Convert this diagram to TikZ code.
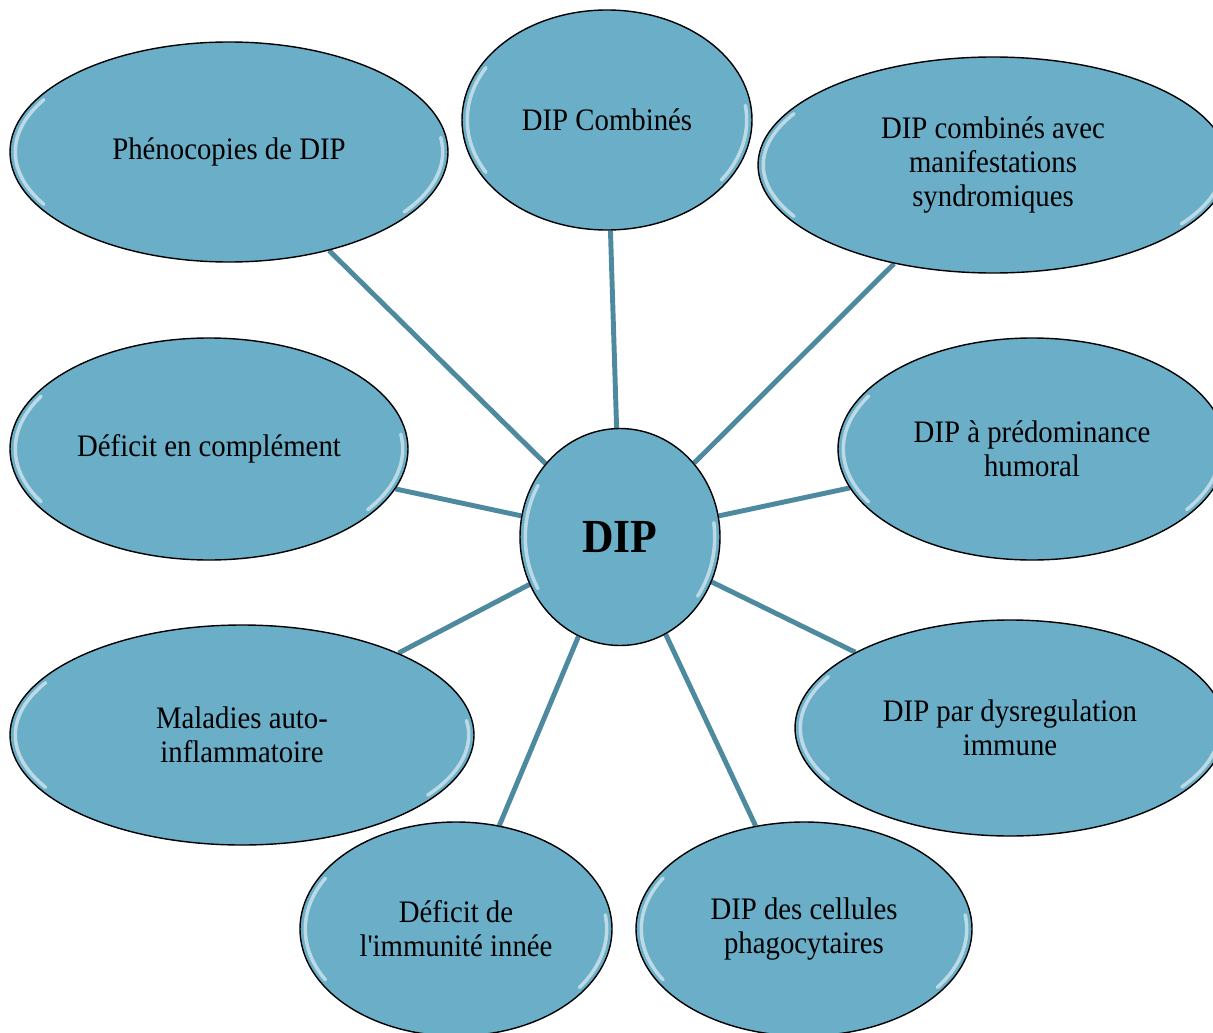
\documentclass[tikz,border=0pt]{standalone}
\usepackage{fontspec}
\setmainfont{Liberation Serif}[FakeStretch=0.92, Ligatures=TeXOff]
\usetikzlibrary{shapes.geometric}
\usetikzlibrary{calc}
\usetikzlibrary{backgrounds}
\definecolor{bleu}{RGB}{106,174,200}
\definecolor{trait}{RGB}{77,138,160}
\tikzset{
    reflet/.style = {path picture={
        \draw[x=1cm, y=1cm, white, opacity=0.55, line width=2pt, line cap=round]
          let \p1 = (path picture bounding box.north east),
              \p2 = (path picture bounding box.center),
              \n1 = {\x1-\x2-3pt}, \n2 = {\y1-\y2-3pt}
          in (\p2) ++(150:\n1 and \n2) arc[start angle=150, end angle=210, x radius=\n1, y radius=\n2]
             (\p2) ++(-35:\n1 and \n2) arc[start angle=-35, end angle=8, x radius=\n1, y radius=\n2];
    }},
    bulle/.style = {ellipse, line width=0.8pt, draw=black, align=center, inner sep=0pt, fill=bleu, font=\fontsize{17.8}{19.4}\selectfont, text=black, reflet},
    bullec/.style = {bulle, font=\fontsize{27}{30}\selectfont\bfseries},
    lien/.style = {-, line width=2.8pt, trait},
}
\begin{document}
\begin{tikzpicture}[x=0.2mm, y=-0.2mm]
  \useasboundingbox (0,0) rectangle (1213,1032);
  \clip (0,0) rectangle (1213,1032);
  \node[bullec, minimum width=40mm, minimum height=43.4mm] (dip) at (620,537) {DIP};
  \node[bulle, minimum width=87.6mm, minimum height=44mm] (pheno) at (229,152) {Phénocopies de DIP};
  \node[bulle, minimum width=58mm, minimum height=44mm] (comb) at (607,120) {DIP Combinés};
  \node[bulle, minimum width=94mm, minimum height=43.2mm] (synd) at (993,165) {DIP combinés avec\\manifestations\\syndromiques};
  \node[bulle, minimum width=79.6mm, minimum height=44.4mm] (compl) at (209,449) {Déficit en complément};
  \node[bulle, minimum width=77.6mm, minimum height=44.4mm] (humo) at (1032,449) {DIP à prédominance\\humoral};
  \node[bulle, minimum width=92.8mm, minimum height=44mm] (auto) at (242,735) {Maladies auto-\\inflammatoire};
  \node[bulle, minimum width=86mm, minimum height=43.2mm] (dysr) at (1010,728) {DIP par dysregulation\\immune};
  \node[bulle, minimum width=62.4mm, minimum height=42.8mm] (inne) at (456,929) {Déficit de\\l'immunité innée};
  \node[bulle, minimum width=67.2mm, minimum height=42.8mm] (phago) at (804,929) {DIP des cellules\\phagocytaires};
  % liens vers le centre
  \begin{scope}[on background layer]
    \foreach \n in {pheno,comb,synd,compl,humo,auto,dysr,inne,phago}
      \draw[lien] (dip) -- (\n);
  \end{scope}
\end{tikzpicture}
\end{document}
